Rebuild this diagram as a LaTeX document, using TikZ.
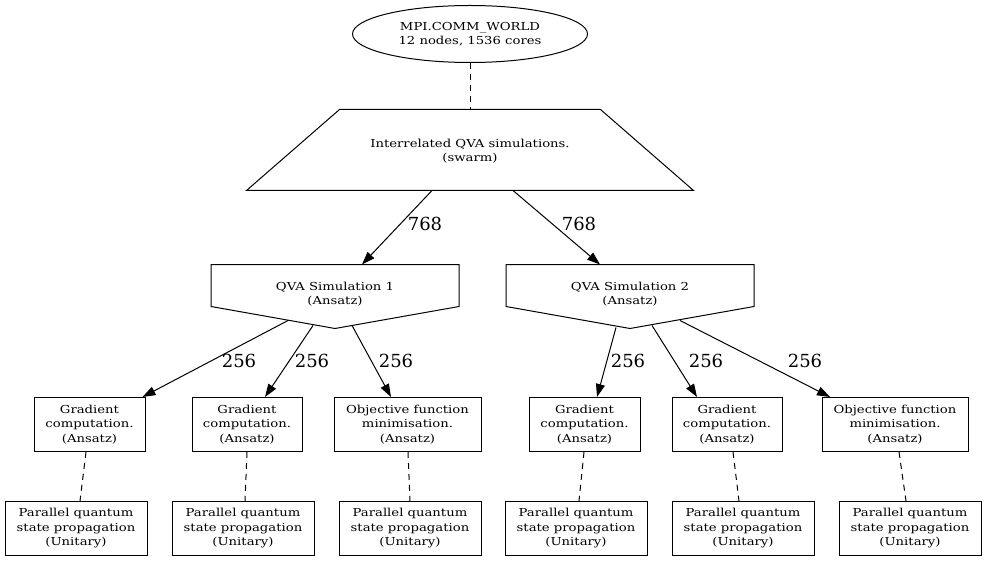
\documentclass[tikz,border=0pt]{standalone}
\usepackage{fontspec}
\setmainfont{DejaVu Serif}
\newfontfamily\nodefont{DejaVu Serif}[FakeStretch=1.2]
\usetikzlibrary{arrows.meta,shapes.geometric}
\begin{document}
\begin{tikzpicture}[x=1pt,y=-1pt,line width=1pt,
  txt/.style={font=\nodefont\fontsize{11}{14.5}\selectfont,align=center,inner sep=0pt},
  ell/.style={txt,draw,ellipse,minimum width=235pt,minimum height=57pt},
  boxa/.style={txt,draw,rectangle,minimum height=54pt,minimum width=#1},
  lbl/.style={font=\fontsize{18}{20}\selectfont,inner sep=0pt},
  arr/.style={-{Triangle[length=13pt,width=9pt]}},
  dsh/.style={dash pattern=on 6pt off 5pt}]
\useasboundingbox (0,0) rectangle (987,561);
% top
\node[ell] (mpi) at (470,34) {MPI.COMM\_WORLD\\12 nodes, 1536 cores};
\node[txt,minimum width=446pt,minimum height=80pt] (swarm) at (470,150) {};
\node[txt] (swarmt) at (470,151) {Interrelated QVA simulations.\\(swarm)};
\draw (swarm.south west) -- (swarm.south east) -- ([xshift=-93pt]swarm.north east) -- ([xshift=93pt]swarm.north west) -- cycle;
\draw[dsh] (mpi.south) -- (swarm.north);
% QVA sims
\node[txt,minimum width=247pt,minimum height=63pt] (q1) at (335,296.5) {};
\node[txt] (q1t) at (335,294) {QVA Simulation 1\\(Ansatz)};
\draw (q1.north west) -- (q1.north east) -- ([yshift=22pt]q1.south east) -- (q1.south) -- ([yshift=22pt]q1.south west) -- cycle;
\node[txt,minimum width=247pt,minimum height=63pt] (q2) at (630,296.5) {};
\node[txt] (q2t) at (630,294) {QVA Simulation 2\\(Ansatz)};
\draw (q2.north west) -- (q2.north east) -- ([yshift=22pt]q2.south east) -- (q2.south) -- ([yshift=22pt]q2.south west) -- cycle;
\draw[arr] ([xshift=-38pt]swarm.south) -- ([xshift=27pt]q1.north);
\draw[arr] ([xshift=43pt]swarm.south) -- ([xshift=-30pt]q2.north);
\node[lbl] (l1) at (425,224) {768};
\node[lbl] (l2) at (579,224) {768};
% row 1
\node[boxa=111pt] (b1) at (89.5,424.5) {Gradient\\computation.\\(Ansatz)};
\node[boxa=110pt] (b2) at (247,424.5) {Gradient\\computation.\\(Ansatz)};
\node[boxa=147pt] (b3) at (407.5,424.5) {Objective function\\minimisation.\\(Ansatz)};
\node[boxa=111pt] (b4) at (584.5,424.5) {Gradient\\computation.\\(Ansatz)};
\node[boxa=110pt] (b5) at (727,424.5) {Gradient\\computation.\\(Ansatz)};
\node[boxa=146pt] (b6) at (895,424.5) {Objective function\\minimisation.\\(Ansatz)};
% edges from sims
\draw[arr] ([xshift=-47pt,yshift=8pt]q1.south) -- ([xshift=53pt]b1.north);
\draw[arr] ([xshift=-22pt,yshift=3pt]q1.south) -- ([xshift=18pt]b2.north);
\draw[arr] ([xshift=17pt,yshift=3pt]q1.south) -- ([xshift=-16.5pt]b3.north);
\draw[arr] ([xshift=-14pt,yshift=1pt]q2.south) -- ([xshift=12.5pt]b4.north);
\draw[arr] ([xshift=22pt,yshift=3pt]q2.south) -- ([xshift=-30pt]b5.north);
\draw[arr] ([xshift=50pt,yshift=8pt]q2.south) -- ([xshift=-65pt]b6.north);
\node[lbl] (m1) at (239,361) {256};
\node[lbl] (m2) at (312,361) {256};
\node[lbl] (m3) at (396,361) {256};
\node[lbl] (m4) at (628,361) {256};
\node[lbl] (m5) at (706,361) {256};
\node[lbl] (m6) at (805,361) {256};
% row 2
\foreach \n/\x in {p1/76,p2/243,p3/410,p4/576,p5/743,p6/910}
  \node[boxa=142pt] (\n) at (\x,528.5) {Parallel quantum\\state propagation\\(Unitary)};
\draw[dsh] ([xshift=-3.5pt]b1.south) -- ([xshift=4pt]p1.north);
\draw[dsh] (b2.south) -- ([xshift=2pt]p2.north);
\draw[dsh] ([xshift=0.5pt]b3.south) -- (p3.north);
\draw[dsh] ([xshift=-0.5pt]b4.south) -- ([xshift=3pt]p4.north);
\draw[dsh] ([xshift=6pt]b5.south) -- ([xshift=-4pt]p5.north);
\draw[dsh] ([xshift=4pt]b6.south) -- ([xshift=-4pt]p6.north);
\end{tikzpicture}
\end{document}
